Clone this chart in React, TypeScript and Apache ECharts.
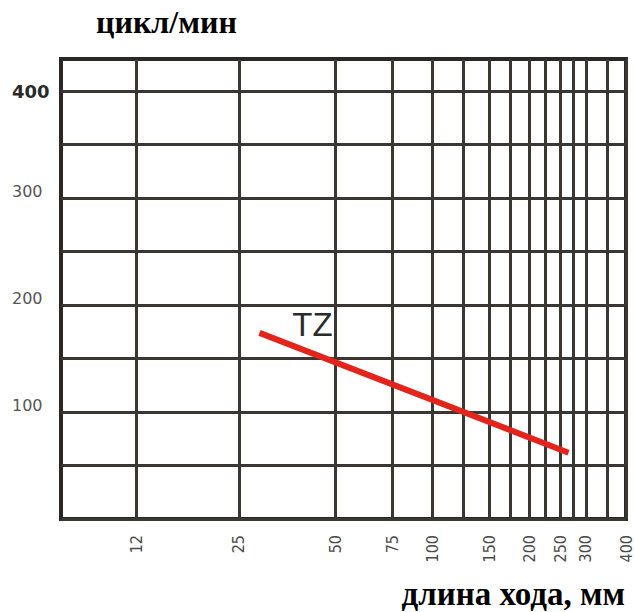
import React, { useEffect, useRef } from "react";
import * as echarts from "echarts";

// Stroke length axis (mm), logarithmic-like
const xGridValues = [12, 25, 50, 75, 100, 125, 150, 175, 200, 225, 250, 275, 300, 350, 400];
const xLabelValues = [12, 25, 50, 75, 100, 150, 200, 250, 300, 400];
// Cycles per minute axis
const yGridValues = [0, 50, 100, 150, 200, 250, 300, 350, 400];
const yLabelValues = [100, 200, 300, 400];
// Series TZ
const seriesName = "TZ";
const strokeMm = [29, 265];
const cyclesPerMin = [174, 62];

const yTitle = "цикл/мин";
const xTitle = "длина хода, мм";

export default function App() {
  const ref = useRef<HTMLDivElement>(null);

  useEffect(() => {
    if (!ref.current) return;
    const chart = echarts.init(ref.current, null, { renderer: "svg" });
    const gridColor = "#3a3632";
    const data = strokeMm.map((x, i) => [x, cyclesPerMin[i]]);
    chart.setOption({
      animation: false,
      backgroundColor: "#ffffff",
      title: [
        {
          text: yTitle,
          left: 91,
          top: 1,
          textStyle: {
            fontFamily: "'Liberation Serif', serif",
            fontWeight: "bold",
            fontSize: 32,
            color: "#000",
          },
        },
        {
          text: xTitle,
          right: 4,
          top: 572,
          textStyle: {
            fontFamily: "'Liberation Serif', serif",
            fontWeight: "bold",
            fontSize: 33,
            color: "#000",
          },
        },
      ],
      grid: {
        left: 61,
        right: 3,
        top: 59,
        bottom: 93,
        show: true,
        borderColor: "#2c2727",
        borderWidth: 4,
        backgroundColor: "#fff",
      },
      xAxis: {
        type: "log",
        logBase: 10,
        min: 7,
        max: 400,
        axisLine: { show: false },
        axisTick: { show: false, customValues: xGridValues },
        splitLine: { show: true, lineStyle: { color: gridColor, width: 3 } },
        axisLabel: {
          customValues: xLabelValues,
          rotate: 90,
          margin: 16,
          padding: [0, 0, 12, 0],
          fontFamily: "'DejaVu Sans Condensed', 'DejaVu Sans', sans-serif",
          fontSize: 16,
          color: "#4a4a4a",
          formatter: (v: number) => String(Math.round(v)),
        },
      },
      yAxis: {
        type: "value",
        min: 0,
        max: 430,
        axisLine: { show: false },
        axisTick: { show: false, customValues: yGridValues },
        splitLine: { show: true, lineStyle: { color: gridColor, width: 3 } },
        axisLabel: {
          customValues: yLabelValues,
          align: "left",
          margin: 49,
          formatter: (v: number) => (v === 400 ? `{a|${v}}` : `{b|${v}}`),
          rich: {
            a: {
              fontFamily: "'DejaVu Sans', sans-serif",
              fontWeight: "bold",
              fontSize: 18,
              color: "#2a2a2a",
            },
            b: {
              fontFamily: "'DejaVu Sans', sans-serif",
              fontSize: 16,
              color: "#555555",
              padding: [0, 0, 14, 0],
            },
          },
        },
      },
      series: [
        {
          name: seriesName,
          type: "line",
          data,
          showSymbol: false,
          lineStyle: { color: "#e3241b", width: 6, cap: "butt" },
          markPoint: {
            symbol: "rect",
            symbolSize: 1,
            itemStyle: { color: "rgba(0,0,0,0)" },
            data: [
              {
                coord: data[0],
                label: {
                  show: true,
                  position: "inside",
                  offset: [53, -8],
                  formatter: seriesName,
                  fontFamily: "'Liberation Sans', Arial, sans-serif",
                  fontSize: 33,
                  color: "#2b2b2b",
                },
              },
            ],
          },
        },
      ],
    });
    return () => chart.dispose();
  }, []);

  return (
    <div
      ref={ref}
      style={{ position: "fixed", left: 0, top: 0, width: 634, height: 612, background: "#fff" }}
    />
  );
}
